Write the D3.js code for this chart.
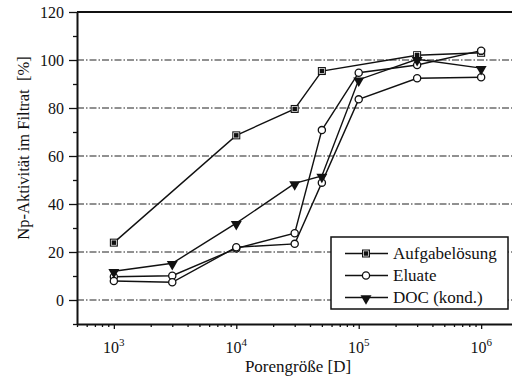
<!DOCTYPE html>
<html>
<head>
<meta charset="utf-8">
<script src="https://cdn.jsdelivr.net/npm/d3@7.9.0/dist/d3.min.js"></script>
<style>
  body { margin: 0; background: #fff; }
  svg text { font-family: 'Liberation Serif', 'DejaVu Serif', 'Times New Roman', serif !important; }
</style>
</head>
<body>
<svg id="chart" width="512" height="379"></svg>
<script>
// pore sizes in Dalton
const poreSizes = [1e3, 3e3, 1e4, 3e4, 5e4, 1e5, 3e5, 1e6];

// Np activity in filtrate [%]
const aufgabe = [23.9, null, 68.6, 79.6, 95.4, null, 102, 103];
const eluate1 = [9.7, 10.1, 21.5, 27.8, 70.8, 94.7, 97.9, 103.9];
const eluate2 = [7.9, 7.4, 22.0, 23.4, 48.9, 83.6, 92.4, 92.8];
const doc = [12.0, 15.3, 32.0, 48.6, 51.7, 91.8, 100.3, 96.6];

const yMajor = [0, 20, 40, 60, 80, 100, 120];
const yMinor = [-10, 10, 30, 50, 70, 90, 110];
const yGrid = [0, 20, 40, 60, 80, 100];
const xMajor = [1e3, 1e4, 1e5, 1e6];

const legendItems = [
  { label: 'Aufgabelösung', marker: 'square' },
  { label: 'Eluate', marker: 'circle' },
  { label: 'DOC (kond.)', marker: 'triangle' }
];

const svg = d3.select('#chart');
const m = { left: 77, right: 518, top: 12, bottom: 324 };

const x = d3.scaleLog().domain([500, 2e6]).range([m.left, m.right]);
const y = d3.scaleLinear().domain([-10, 120]).range([m.bottom, m.top]);

// dash-dot grid
svg.append('g')
  .selectAll('line')
  .data(yGrid)
  .join('line')
  .attr('x1', m.left).attr('x2', m.right)
  .attr('y1', d => y(d)).attr('y2', d => y(d))
  .attr('stroke', '#222')
  .attr('stroke-width', 1)
  .attr('stroke-dasharray', '7,2,1.5,2');

// y axis
const yAxis = svg.append('g')
  .attr('transform', `translate(${m.left},0)`)
  .call(d3.axisLeft(y).tickValues(yMajor).tickSize(8).tickSizeOuter(0).tickPadding(5));
svg.append('g')
  .attr('transform', `translate(${m.left},0)`)
  .call(d3.axisLeft(y).tickValues(yMinor).tickSize(4).tickFormat(''))
  .select('.domain').remove();

// x axis
svg.append('g')
  .attr('transform', `translate(0,${m.bottom})`)
  .call(d3.axisBottom(x).tickValues(xMajor).tickSize(5).tickSizeOuter(0).tickFormat(''));
const minorX = x.ticks().filter(v => !xMajor.includes(v));
svg.append('g')
  .attr('transform', `translate(0,${m.bottom})`)
  .call(d3.axisBottom(x).tickValues(minorX).tickSize(3).tickFormat(''))
  .select('.domain').remove();

svg.selectAll('.domain').attr('stroke-width', 2).attr('stroke', '#111');
svg.selectAll('.tick line').attr('stroke-width', 1.3).attr('stroke', '#111');
yAxis.selectAll('text')
  .attr('font-size', 16)
  .attr('fill', '#111');

// x tick labels 10^n
xMajor.forEach(v => {
  const t = svg.append('text')
    .attr('x', x(v))
    .attr('y', 353)
    .attr('text-anchor', 'middle')
    .attr('font-size', 16)
    .attr('fill', '#111');
  t.append('tspan').text('10');
  t.append('tspan').attr('dy', -7).attr('font-size', 11).text(Math.round(Math.log10(v)));
});

// top frame line
svg.append('line')
  .attr('x1', m.left).attr('x2', m.right)
  .attr('y1', m.top).attr('y2', m.top)
  .attr('stroke', '#111').attr('stroke-width', 2);

// axis titles
svg.append('text')
  .attr('transform', `translate(29,148) rotate(-90)`)
  .attr('text-anchor', 'middle')
  .attr('font-size', 16.5)
  .attr('fill', '#111')
  .style('white-space', 'pre')
  .text('Np-Aktivität im Filtrat  [%]');

svg.append('text')
  .attr('x', 298).attr('y', 372)
  .attr('text-anchor', 'middle')
  .attr('font-size', 17)
  .attr('fill', '#111')
  .text('Porengröße [D]');

// markers
function drawMarker(g, type, cx, cy) {
  if (type === 'square') {
    g.append('rect').attr('x', cx - 4).attr('y', cy - 4).attr('width', 8).attr('height', 8)
      .attr('fill', '#111');
    g.append('rect').attr('x', cx - 2.6).attr('y', cy - 2.6).attr('width', 5.2).attr('height', 5.2)
      .attr('fill', '#111').attr('stroke', '#fff').attr('stroke-width', 0.7);
  } else if (type === 'circle') {
    g.append('circle').attr('cx', cx).attr('cy', cy).attr('r', 3.6)
      .attr('fill', '#fff').attr('stroke', '#111').attr('stroke-width', 1.3);
  } else {
    g.append('path')
      .attr('d', d3.symbol().type(d3.symbolTriangle).size(52)())
      .attr('transform', `translate(${cx},${cy + 1}) rotate(180)`)
      .attr('fill', '#111');
  }
}

const series = [
  { values: aufgabe, marker: 'square' },
  { values: eluate1, marker: 'circle' },
  { values: eluate2, marker: 'circle' },
  { values: doc, marker: 'triangle' }
];

const line = d3.line()
  .x(d => x(d[0]))
  .y(d => y(d[1]));

const plot = svg.append('g');
series.forEach(s => {
  const pts = poreSizes.map((p, i) => [p, s.values[i]]).filter(d => d[1] !== null);
  plot.append('path')
    .attr('d', line(pts))
    .attr('fill', 'none')
    .attr('stroke', '#111')
    .attr('stroke-width', 1.4);
});
series.forEach(s => {
  poreSizes.forEach((p, i) => {
    if (s.values[i] === null) return;
    drawMarker(plot, s.marker, x(p), y(s.values[i]));
  });
});

// legend
const lg = svg.append('g');
lg.append('rect')
  .attr('x', 331).attr('y', 237).attr('width', 177).attr('height', 72)
  .attr('fill', '#fff').attr('stroke', '#111').attr('stroke-width', 1.5);
legendItems.forEach((d, i) => {
  const cy = 253.5 + i * 22;
  lg.append('line').attr('x1', 345).attr('x2', 388).attr('y1', cy).attr('y2', cy)
    .attr('stroke', '#111').attr('stroke-width', 1.4);
  drawMarker(lg, d.marker, 366, cy);
  lg.append('text').attr('x', 393).attr('y', cy + 5.5)
    .attr('font-size', 17).attr('fill', '#111').text(d.label);
});
</script>
</body>
</html>
